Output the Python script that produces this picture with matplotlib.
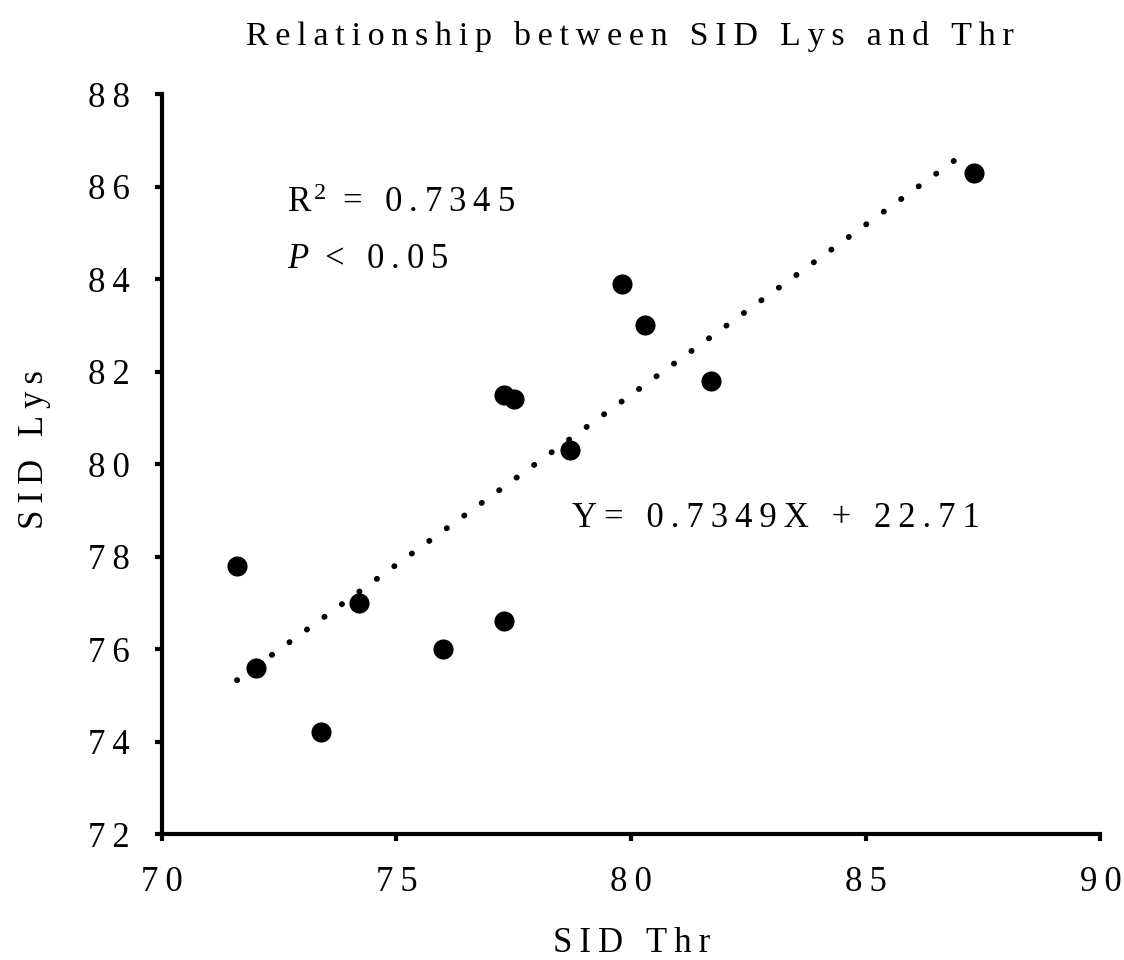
import numpy as np
import matplotlib
matplotlib.use("Agg")
import matplotlib.pyplot as plt

# SID Thr (x) and SID Lys (y) values
sid_thr = [71.6, 72.0, 73.4, 74.2, 76.0, 77.3, 77.3, 77.5, 78.7, 79.8, 80.3, 81.7, 87.3]
sid_lys = [77.8, 75.6, 74.2, 77.0, 76.0, 76.6, 81.5, 81.4, 80.3, 83.9, 83.0, 81.8, 86.3]

slope = 0.7349
intercept = 22.71
r2_text = "0.7345"

x_ticks = [70, 75, 80, 85, 90]
y_ticks = [72, 74, 76, 78, 80, 82, 84, 86, 88]

plt.rcParams['font.family'] = ['Liberation Serif', 'DejaVu Serif']
plt.rcParams['mathtext.fontset'] = 'custom'
plt.rcParams['mathtext.rm'] = 'Liberation Serif'
plt.rcParams['mathtext.it'] = 'Liberation Serif:italic'


def spaced(s, sep='\u2009'):
    # the original uses wide letter spacing
    return sep.join(s)


fig = plt.figure(figsize=(11.24, 9.6), dpi=100)
ax = fig.add_axes([0.144, 0.131, 0.835, 0.771])

# dotted trend line
fx = np.array([min(sid_thr), max(sid_thr) - 0.1])
ax.plot(fx, slope * fx + intercept, color='black', linewidth=4.2,
        linestyle=(0, (0.05, 3.65)), dash_capstyle='round', zorder=2)

ax.scatter(sid_thr, sid_lys, s=210, color='black', zorder=3, linewidths=0)

ax.set_xlim(70, 90)
ax.set_ylim(72, 88)
ax.set_xticks(x_ticks)
ax.set_yticks(y_ticks)
ax.set_xticklabels([spaced(str(t)) for t in x_ticks])
ax.set_yticklabels([spaced(str(t)) for t in y_ticks])

for side in ['top', 'right']:
    ax.spines[side].set_visible(False)
for side in ['left', 'bottom']:
    ax.spines[side].set_linewidth(3)
ax.tick_params(direction='out', length=5, width=3, labelsize=25, pad=18)

ax.set_xlabel(spaced("SID Thr"), fontsize=25, labelpad=20)
ax.set_ylabel(spaced("SID Lys"), fontsize=25, labelpad=18)
ax.yaxis.set_label_coords(-0.118, 0.52)
fig.text(0.56, 0.962, spaced("Relationship between SID Lys and Thr"),
         fontsize=24.5, ha='center', va='center')

ax.text(72.66, 85.46, spaced("R") + "$^{\\,2}$" + spaced(" = " + r2_text),
        fontsize=25, ha='left', va='baseline')
ax.text(72.66, 84.24, "$P$" + spaced(" < 0.05"),
        fontsize=25, ha='left', va='baseline')
ax.text(78.74, 78.65, spaced("Y= 0.7349X + 22.71"),
        fontsize=25, ha='left', va='baseline')

fig.savefig("out.png", dpi=100)
